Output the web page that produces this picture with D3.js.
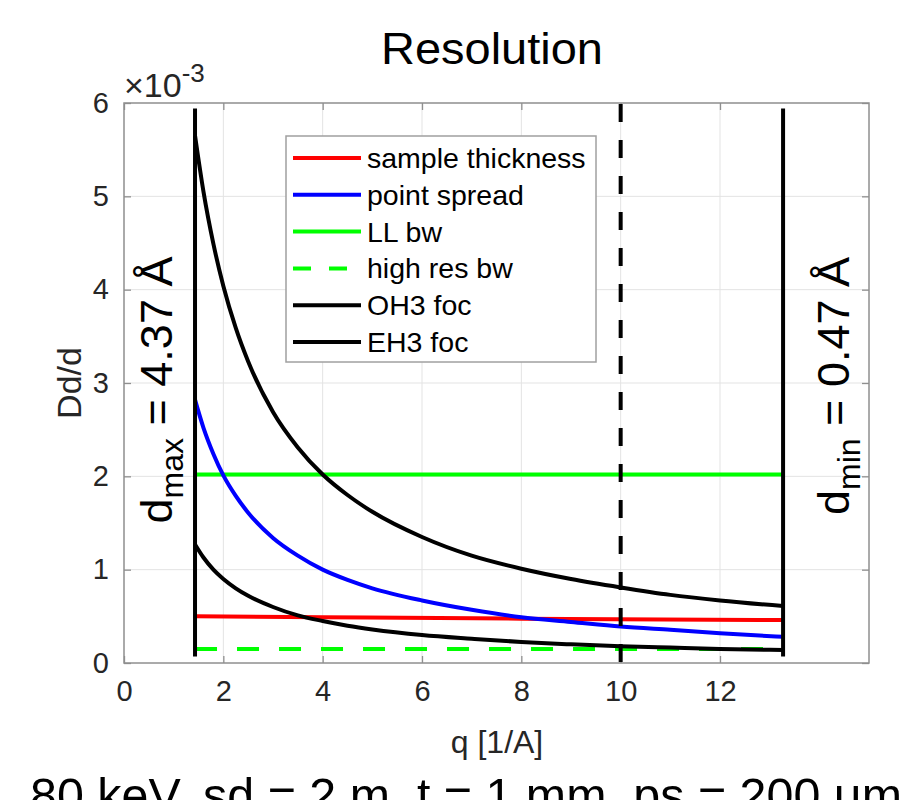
<!DOCTYPE html>
<html><head><meta charset="utf-8">
<script src="https://cdn.jsdelivr.net/npm/d3@7"></script>
<style>body{margin:0;background:#fff}svg{display:block}text{font-family:"Liberation Sans",Arial,sans-serif}</style>
</head><body>
<svg id="c" width="903" height="800"></svg>
<script>
// ---------- data (values in units of 1e-3) ----------
const qCurve = [1.43, 1.6, 1.8, 2, 2.25, 2.5, 3, 3.5, 4, 4.5, 5, 6, 7, 8, 9, 10, 11, 12, 13.27];
const pointSpread = [2.82, 2.52, 2.24, 2.01, 1.79, 1.61, 1.34, 1.15, 1.00, 0.89, 0.80, 0.67, 0.57, 0.49, 0.44, 0.39, 0.355, 0.32, 0.28];
const oh3Foc = [5.65, 5.05, 4.49, 4.04, 3.59, 3.23, 2.69, 2.31, 2.02, 1.80, 1.62, 1.35, 1.15, 1.01, 0.90, 0.81, 0.73, 0.67, 0.61];
const eh3Foc = [1.27, 1.13, 1.00, 0.90, 0.80, 0.72, 0.60, 0.51, 0.45, 0.40, 0.36, 0.30, 0.26, 0.225, 0.20, 0.18, 0.165, 0.15, 0.14];
const qFlat = [1.43, 4, 8, 13.27];
const sampleThickness = [0.50, 0.49, 0.475, 0.46];
const llBw = [2.02, 2.02, 2.02, 2.02];
const highResBw = [0.15, 0.15, 0.15, 0.15];
const qDmax = 1.43, qDmin = 13.27, qMark = 10;
const vLineRange = [0.07, 5.94];
const xTicks = [0, 2, 4, 6, 8, 10, 12];
const yTicks = [0, 1, 2, 3, 4, 5, 6];
const legendNames = ["sample thickness", "point spread", "LL bw", "high res bw", "OH3 foc", "EH3 foc"];
const legendColors = ["#ff0000", "#0000ff", "#00ff00", "#00ff00", "#000000", "#000000"];
const legendDashed = [false, false, false, true, false, false];

// ---------- layout ----------
const svg = d3.select("#c");
const x = d3.scaleLinear().domain([0, 15]).range([124, 869]);
const y = d3.scaleLinear().domain([0, 6]).range([663, 103]);
const axisGray = "#8f8f8f", tickText = "#262626";

// grid
const g = svg.append("g");
g.selectAll(".gx").data(xTicks.slice(1)).join("line")
  .attr("x1", d => x(d)).attr("x2", d => x(d)).attr("y1", y(0)).attr("y2", y(6))
  .attr("stroke", "#e3e3e3").attr("stroke-width", 1);
g.selectAll(".gy").data(yTicks.slice(1, -1)).join("line")
  .attr("y1", d => y(d)).attr("y2", d => y(d)).attr("x1", x(0)).attr("x2", x(15))
  .attr("stroke", "#e3e3e3").attr("stroke-width", 1);

// axes via d3 axis generators
const fs = 29;
const xAxis = svg.append("g").attr("transform", `translate(0,${y(0)})`)
  .call(d3.axisBottom(x).tickValues(xTicks).tickSize(-7).tickPadding(17).tickFormat(d3.format("d")));
const xAxisTop = svg.append("g").attr("transform", `translate(0,${y(6)})`)
  .call(d3.axisTop(x).tickValues(xTicks).tickSize(-7).tickFormat(""));
const yAxis = svg.append("g").attr("transform", `translate(${x(0)},0)`)
  .call(d3.axisLeft(y).tickValues(yTicks).tickSize(-7).tickPadding(15).tickFormat(d3.format("d")));
const yAxisR = svg.append("g").attr("transform", `translate(${x(15)},0)`)
  .call(d3.axisRight(y).tickValues(yTicks).tickSize(-7).tickFormat(""));
[xAxis, xAxisTop, yAxis, yAxisR].forEach(a => {
  a.attr("font-size", fs);
  a.select(".domain").remove();
  a.selectAll(".tick line").attr("stroke", axisGray).attr("stroke-width", 1.3);
  a.selectAll("text").attr("font-size", fs).attr("fill", tickText)
   .attr("font-family", "Liberation Sans, Arial, sans-serif");
});
svg.append("rect").attr("x", x(0)).attr("y", y(6)).attr("width", x(15) - x(0)).attr("height", y(0) - y(6))
  .attr("fill", "none").attr("stroke", axisGray).attr("stroke-width", 1.5);

// lines
const line = d3.line().x(d => x(d[0])).y(d => y(d[1])).curve(d3.curveMonotoneX);
const zip = (a, b) => a.map((v, i) => [v, b[i]]);
const plot = svg.append("g");
plot.append("path").datum(zip(qFlat, highResBw)).attr("d", line).attr("fill", "none")
  .attr("stroke", "#00ff00").attr("stroke-width", 4).attr("stroke-dasharray", "22,20");
plot.append("path").datum(zip(qFlat, llBw)).attr("d", line).attr("fill", "none")
  .attr("stroke", "#00ff00").attr("stroke-width", 4);
plot.append("path").datum(zip(qFlat, sampleThickness)).attr("d", line).attr("fill", "none")
  .attr("stroke", "#ff0000").attr("stroke-width", 4);
plot.append("path").datum(zip(qCurve, pointSpread)).attr("d", line).attr("fill", "none")
  .attr("stroke", "#0000ff").attr("stroke-width", 4);
plot.append("path").datum(zip(qCurve, oh3Foc)).attr("d", line).attr("fill", "none")
  .attr("stroke", "#000").attr("stroke-width", 4);
plot.append("path").datum(zip(qCurve, eh3Foc)).attr("d", line).attr("fill", "none")
  .attr("stroke", "#000").attr("stroke-width", 4);
// vertical lines
[qDmax, qDmin].forEach(q => {
  plot.append("line").attr("x1", x(q)).attr("x2", x(q)).attr("y1", y(vLineRange[0])).attr("y2", y(vLineRange[1]))
    .attr("stroke", "#000").attr("stroke-width", 4);
});
plot.append("line").attr("x1", x(qMark)).attr("x2", x(qMark)).attr("y1", y(6) + 1).attr("y2", y(0))
  .attr("stroke", "#000").attr("stroke-width", 4).attr("stroke-dasharray", "18,18");

// legend
const lg = svg.append("g");
lg.append("rect").attr("x", 286).attr("y", 136).attr("width", 310).attr("height", 226)
  .attr("fill", "#fff").attr("stroke", "#a0a0a0").attr("stroke-width", 1.5);
legendNames.forEach((n, i) => {
  const yy = 158 + i * 36.8;
  lg.append("line").attr("x1", 293).attr("x2", 361).attr("y1", yy).attr("y2", yy)
    .attr("stroke", legendColors[i]).attr("stroke-width", 4)
    .attr("stroke-dasharray", legendDashed[i] ? "18,18" : null);
  lg.append("text").attr("x", 367).attr("y", yy + 10).attr("font-size", 28.5).attr("fill", "#000").text(n);
});

// title & labels
svg.append("text").attr("x", 492).attr("y", 64).attr("text-anchor", "middle")
  .attr("font-size", 44).attr("fill", "#000").attr("textLength", 222)
  .attr("lengthAdjust", "spacingAndGlyphs").text("Resolution");
const mult = svg.append("text").attr("x", 124).attr("y", 97).attr("font-size", 34).attr("fill", tickText);
mult.append("tspan").text("×10");
mult.append("tspan").attr("dy", -15).attr("font-size", 26).text("-3");
svg.append("text").attr("transform", "translate(81,383) rotate(-90)").attr("text-anchor", "middle")
  .attr("font-size", 34).attr("fill", tickText).text("Dd/d");
svg.append("text").attr("x", 497).attr("y", 753).attr("text-anchor", "middle")
  .attr("font-size", 32).attr("fill", tickText).text("q [1/A]");
svg.append("text").attr("x", 30).attr("y", 812).attr("font-size", 48).attr("fill", "#000")
  .attr("textLength", 872).attr("lengthAdjust", "spacingAndGlyphs")
  .text("80 keV, sd = 2 m, t = 1 mm, ps = 200 μm");

function rotLabel(cx, cy, sub, val) {
  const t = svg.append("text").attr("transform", `translate(${cx},${cy}) rotate(-90)`)
    .attr("text-anchor", "middle").attr("font-size", 45).attr("fill", "#000");
  t.append("tspan").text("d");
  t.append("tspan").attr("dy", 11).attr("font-size", 32).text(sub);
  t.append("tspan").attr("dy", -11).text(" = " + val + " Å");
}
rotLabel(172, 390, "max", "4.37");
rotLabel(849, 386, "min", "0.47");
</script>
</body></html>
